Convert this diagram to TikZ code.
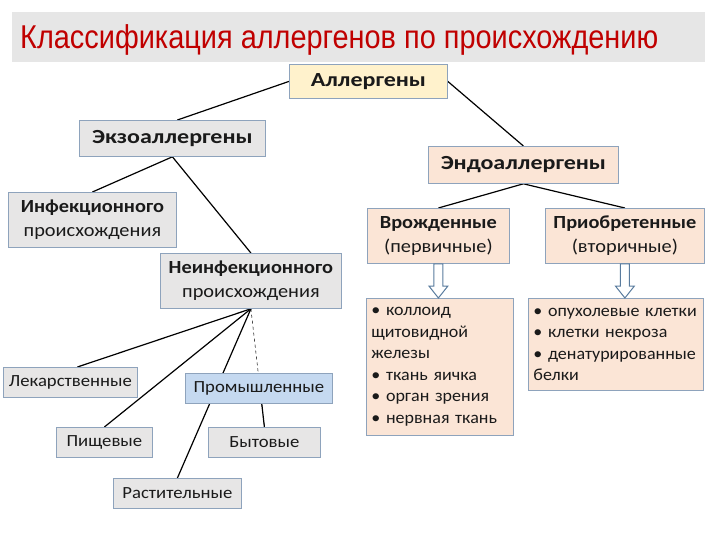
\documentclass[tikz,border=0pt]{standalone}
\usepackage{fontspec}
\setmainfont{Carlito}
\newfontfamily\titlefont{Liberation Sans}
\newfontfamily\wideA{Carlito}[FakeStretch=1.2]
\newfontfamily\wideB{Carlito}[FakeStretch=1.1]
\newfontfamily\wideC{Carlito}[FakeStretch=1.06]
\usetikzlibrary{backgrounds,calc}
\definecolor{bandgray}{HTML}{E6E6E6}
\definecolor{titlered}{HTML}{C00000}
\definecolor{boxgray}{HTML}{E7E6E6}
\definecolor{boxedge}{HTML}{8EA3BC}
\definecolor{peach}{HTML}{FBE5D6}
\definecolor{ylw}{HTML}{FFF2CC}
\definecolor{lblue}{HTML}{C5D9F0}
\definecolor{arrowedge}{HTML}{5A7C9E}
\definecolor{txt}{HTML}{1A1A1A}
\tikzset{
  box/.style={draw=boxedge, line width=0.8pt, inner sep=0pt, anchor=north west, align=center, text=txt},
  hdr/.style={font=\wideA\fontsize{20}{22}\selectfont\bfseries},
  two/.style={font=\wideB\fontsize{18.5}{24}\selectfont},
  small/.style={font=\wideB\fontsize{17}{19}\selectfont},
  list/.style={box, fill=peach, align=left, inner xsep=5pt, font=\wideC\fontsize{17}{21.5}\selectfont},
  conn/.style={draw=black, line width=1.2pt},
  blockarrow/.style={draw=arrowedge, line width=1pt, fill=white, line join=miter}
}
\newcommand\hollowdown[2]{%
  \draw[blockarrow] let \p1=(#1.south), \p2=(#2.north) in
    (\x1-4.5pt,\y1) -- (\x1+4.5pt,\y1) -- (\x1+4.5pt,\y2+12pt) -- (\x1+9.5pt,\y2+12pt)
    -- (\x1,\y2) -- (\x1-9.5pt,\y2+12pt) -- (\x1-4.5pt,\y2+12pt) -- cycle;}
\begin{document}
\begin{tikzpicture}[x=1pt,y=-1pt]
\useasboundingbox (0,0) rectangle (720,540);
% title
\node[fill=bandgray, anchor=north west, minimum width=693pt, minimum height=50pt, inner sep=0pt] (band) at (12,12) {};
\node[anchor=base west, inner sep=0pt, text=titlered, font=\titlefont\fontsize{33}{35}\selectfont] (title) at (20,49)
  {\resizebox{638pt}{\height}{Классификация аллергенов по происхождению}};
% nodes
\node[box, fill=ylw, minimum width=158pt, minimum height=34pt, hdr] (all) at (289,64) {Аллергены};
\node[box, fill=boxgray, minimum width=186pt, minimum height=36pt, hdr] (exo) at (79,120) {Экзоаллергены};
\node[box, fill=peach, minimum width=190pt, minimum height=37pt, hdr] (endo) at (428,146) {Эндоаллергены};
\node[box, fill=boxgray, minimum width=168pt, minimum height=55pt, two] (inf) at (8,192) {\textbf{Инфекционного}\\происхождения};
\node[box, fill=boxgray, minimum width=181pt, minimum height=55pt, two] (nf) at (160,253) {\textbf{Неинфекционного}\\происхождения};
\node[box, fill=peach, minimum width=142pt, minimum height=55pt, two] (vr) at (367,208) {\textbf{Врожденные}\\(первичные)};
\node[box, fill=peach, minimum width=159pt, minimum height=55pt, two] (pr) at (545,208) {\textbf{Приобретенные}\\(вторичные)};
\node[list, minimum width=147pt, minimum height=137pt, text width=137pt] (l1) at (366,298)
  {• коллоид\\щитовидной\\железы\\• ткань яичка\\• орган зрения\\• нервная ткань};
\node[list, minimum width=175pt, minimum height=92pt, text width=165pt] (l2) at (528,298)
  {• опухолевые клетки\\• клетки некроза\\• денатурированные\\белки};
\node[box, fill=boxgray, minimum width=134pt, minimum height=30pt, small] (lek) at (3,367) {Лекарственные};
\node[box, fill=lblue, minimum width=147pt, minimum height=30pt, small] (prom) at (185,373) {Промышленные};
\node[box, fill=boxgray, minimum width=96pt, minimum height=30pt, small] (pish) at (56,427) {Пищевые};
\node[box, fill=boxgray, minimum width=112pt, minimum height=30pt, small] (byt) at (208,427) {Бытовые};
\node[box, fill=boxgray, minimum width=128pt, minimum height=30pt, small] (rast) at (113,478) {Растительные};
% connectors
\begin{scope}[on background layer]
\draw[conn] (all.west) -- ($(exo.north)+(5,0)$);
\draw[conn] (all.east) -- (endo.north);
\draw[conn] (exo.south) -- (inf.north);
\draw[conn] (exo.south) -- (nf.north);
\draw[conn] (endo.south) -- (vr.north);
\draw[conn] (endo.south) -- (pr.north);
\draw[conn] (nf.south) -- ($(lek.north)+(7,0)$);
\draw[conn] (nf.south) -- (pish.north);
\draw[conn] (nf.south) -- (rast.north);
\draw[dashed, line width=0.5pt] (nf.south) -- (byt.north);
\draw[conn] ($(nf.south)!0.8!(byt.north)$) -- (byt.north);
\end{scope}
\hollowdown{vr}{l1}
\hollowdown{pr}{l2}
\end{tikzpicture}
\end{document}
